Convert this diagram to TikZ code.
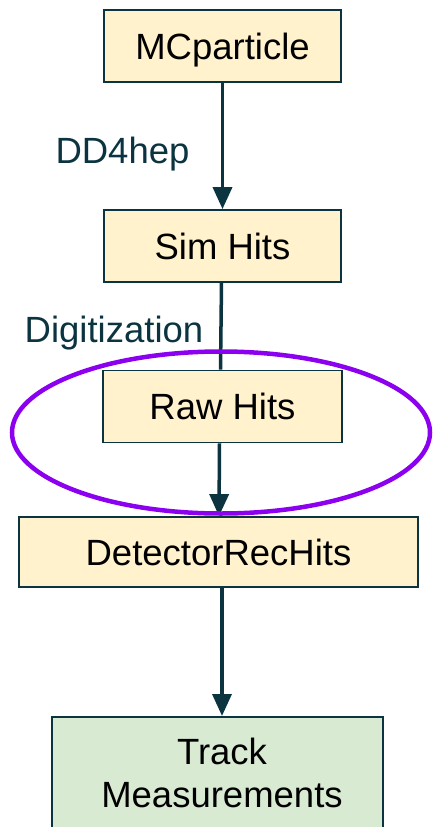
\documentclass[tikz,border=0pt]{standalone}
\usepackage{fontspec}
\setmainfont{Liberation Sans}
\usetikzlibrary{arrows.meta}
\definecolor{edgec}{HTML}{0B3440}
\definecolor{boxy}{HTML}{FFF2CC}
\definecolor{boxg}{HTML}{D9EAD3}
\definecolor{ringc}{HTML}{8B00EE}
\tikzset{
  boxbase/.style={draw=edgec, line width=1.8pt, inner sep=0pt, font=\fontsize{36.5}{43}\selectfont, text=black},
  box/.style={boxbase, fill=boxy, minimum height=72pt, text height=26pt, text depth=0pt},
  gbox/.style={boxbase, fill=boxg, align=center},
  flow/.style={draw=edgec, line width=3.5pt, -{Triangle[length=22pt,width=19pt]}},
  plain/.style={draw=edgec, line width=3.5pt},
  lbl/.style={font=\fontsize{36.5}{43}\selectfont, text=edgec, inner sep=0pt}
}
\begin{document}
\begin{tikzpicture}[x=1pt,y=-1pt]
\useasboundingbox (0,0) rectangle (433,827);
\clip (0,0) rectangle (433,827);
\node[box, minimum width=237pt] (mc) at (222.5,46) {MCparticle};
\node[box, minimum width=237pt] (sim) at (222.5,246) {Sim Hits};
\node[box, minimum width=239pt] (raw) at (222.5,406.5) {Raw Hits};
\node[box, minimum width=399pt, minimum height=70pt] (det) at (218.5,552) {DetectorRecHits};
\node[gbox, minimum width=331pt, minimum height=113pt, anchor=north] (trk) at (217.5,716) {\hspace*{9pt}Track\\\hspace*{9pt}Measurements};
\node[lbl, anchor=base] (ldd) at (122.5,163) {DD4hep};
\node[lbl, anchor=base] (ldig) at (114,342) {Digitization};
\draw[flow] (mc.south) -- (sim.north);
\draw[plain] ([xshift=-1pt]sim.south) -- ([xshift=-2pt]raw.north);
\draw[flow] ([xshift=-3pt]raw.south) -- ([xshift=0.5pt]det.north);
\draw[flow] ([xshift=3.5pt]det.south) -- ([xshift=4.5pt]trk.north);
\draw[ringc, line width=4.5pt] (221,432.5) ellipse [x radius=209pt, y radius=81pt];
\end{tikzpicture}
\end{document}
